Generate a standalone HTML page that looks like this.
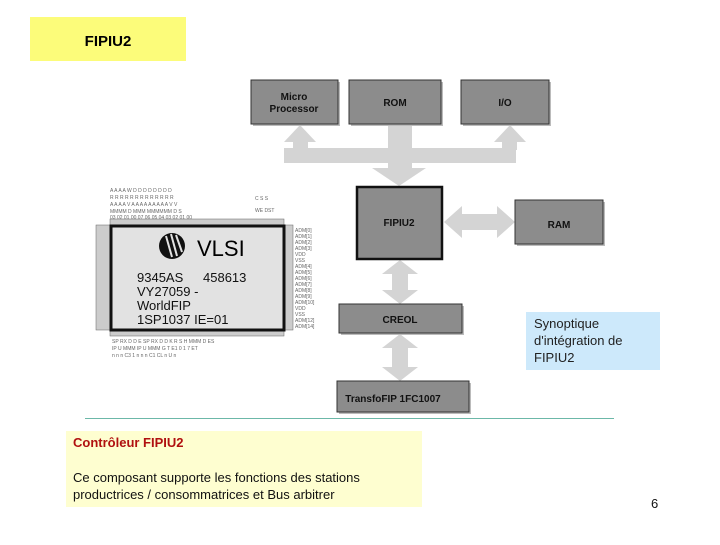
<!DOCTYPE html>
<html><head><meta charset="utf-8"><style>
body{margin:0;width:720px;height:540px;background:#fff;overflow:hidden;font-family:"Liberation Sans",sans-serif}
</style></head><body>
<svg width="720" height="540" xmlns="http://www.w3.org/2000/svg" font-family="Liberation Sans, sans-serif">
<rect x="30" y="17" width="156" height="44" fill="#fcfc7a"/>
<text x="108" y="46" font-size="15" font-weight="bold" text-anchor="middle">FIPIU2</text>

<!-- chip -->
<g fill="#666" font-size="5">
<text x="110" y="192">A A A A    W D D    D D D D D D</text>
<text x="110" y="199">R R R R    R R R    R R R R R R</text>
<text x="110" y="206">A A A A  V  A A A  A A A A A A  V  V</text>
<text x="110" y="213">MMMM  D  MMM  MMMMMM  D  S</text>
<text x="110" y="219">03 02 01 00   07 06   05 04 03 02 01 00</text>
<text x="255" y="200">C S S</text><text x="255" y="212">WE DST</text>
</g>
<rect x="110" y="219" width="174" height="6" fill="#ccc" stroke="#666" stroke-width="0.5"/>
<rect x="96" y="225" width="14" height="105" fill="#ccc" stroke="#666" stroke-width="0.5"/>
<rect x="285" y="225" width="8" height="105" fill="#ccc" stroke="#666" stroke-width="0.5"/>
<rect x="110" y="330" width="174" height="6" fill="#ccc" stroke="#666" stroke-width="0.5"/>
<g fill="#666" font-size="5">
<text x="295" y="232">ADM[0]</text><text x="295" y="238">ADM[1]</text><text x="295" y="244">ADM[2]</text><text x="295" y="250">ADM[3]</text>
<text x="295" y="256">VDD</text><text x="295" y="262">VSS</text><text x="295" y="268">ADM[4]</text><text x="295" y="274">ADM[5]</text>
<text x="295" y="280">ADM[6]</text><text x="295" y="286">ADM[7]</text><text x="295" y="292">ADM[8]</text><text x="295" y="298">ADM[9]</text>
<text x="295" y="304">ADM[10]</text><text x="295" y="310">VDD</text><text x="295" y="316">VSS</text><text x="295" y="322">ADM[12]</text><text x="295" y="328">ADM[14]</text>
<text x="112" y="343">SP RX  D D E  SP RX D D  K R  S  H MMM  D ES</text>
<text x="112" y="350">IP U  MMM  IP U MMM  G  T  E1 0 1 7  ET</text>
<text x="112" y="357">n n n C3  1 n n n C1  CL  n   U n</text>
</g>
<rect x="111" y="226" width="173" height="104" fill="#e2e2e2" stroke="#111" stroke-width="3"/>
<circle cx="172" cy="246" r="13" fill="#111"/>
<g stroke="#e2e2e2" stroke-width="2"><line x1="166" y1="236" x2="172" y2="257"/><line x1="171" y1="234" x2="177" y2="256"/><line x1="176" y1="235" x2="182" y2="252"/></g>
<text x="197" y="256" font-size="22">VLSI</text>
<g font-size="13" fill="#111">
<text x="137" y="282">9345AS</text><text x="203" y="282">458613</text>
<text x="137" y="296">VY27059 -</text>
<text x="137" y="310">WorldFIP</text>
<text x="137" y="324">1SP1037   IE=01</text>
</g>

<!-- arrows -->
<g fill="#d4d4d4">
<rect x="284" y="148" width="232" height="15"/>
<rect x="293" y="140" width="15" height="10"/>
<polygon points="300,125 316,142 284,142"/>
<rect x="502" y="140" width="15" height="10"/>
<polygon points="510,125 526,142 494,142"/>
<rect x="388" y="124" width="24" height="45"/>
<polygon points="372,168 426,168 399,186"/>
<path d="M444 222 L462 206 V214 H497 V206 L515 222 L497 238 V230 H462 V238 Z"/>
<path d="M400 260 L418 274 H408 V290 H418 L400 304 L382 290 H392 V274 H382 Z"/>
<path d="M400 334 L418 348 H408 V367 H418 L400 381 L382 367 H392 V348 H382 Z"/>
</g>

<!-- boxes -->
<g stroke="#333" stroke-width="1" fill="#8c8c8c">
<rect x="253" y="82" width="87" height="44" fill="#bbb" stroke="none"/>
<rect x="251" y="80" width="87" height="44"/>
<rect x="351" y="82" width="92" height="44" fill="#bbb" stroke="none"/>
<rect x="349" y="80" width="92" height="44"/>
<rect x="463" y="82" width="88" height="44" fill="#bbb" stroke="none"/>
<rect x="461" y="80" width="88" height="44"/>
<rect x="517" y="202" width="88" height="44" fill="#bbb" stroke="none"/>
<rect x="515" y="200" width="88" height="44"/>
<rect x="341" y="306" width="123" height="29" fill="#bbb" stroke="none"/>
<rect x="339" y="304" width="123" height="29"/>
<rect x="339" y="383" width="132" height="31" fill="#bbb" stroke="none"/>
<rect x="337" y="381" width="132" height="31"/>
<rect x="357" y="187" width="85" height="72" stroke="#111" stroke-width="2.5"/>
</g>
<g font-size="10" font-weight="bold" fill="#111" text-anchor="middle">
<text x="294" y="100">Micro</text><text x="294" y="112">Processor</text>
<text x="395" y="106">ROM</text>
<text x="505" y="106">I/O</text>
<text x="399" y="226">FIPIU2</text>
<text x="559" y="228">RAM</text>
<text x="400" y="323">CREOL</text>
<text x="393" y="402">TransfoFIP 1FC1007</text>
</g>

<rect x="526" y="312" width="134" height="58" fill="#cde9fb"/>
<g font-size="13" fill="#222"><text x="534" y="328">Synoptique</text><text x="534" y="345">d'intégration de</text><text x="534" y="362">FIPIU2</text></g>

<line x1="85" y1="418.5" x2="614" y2="418.5" stroke="#6cb8a8" stroke-width="1"/>
<rect x="66" y="431" width="356" height="76" fill="#fefed0"/>
<text x="73" y="447" font-size="13" font-weight="bold" fill="#b01010">Contrôleur FIPIU2</text>
<text x="73" y="482" font-size="13" fill="#111">Ce composant supporte les fonctions des stations</text>
<text x="73" y="499" font-size="13" fill="#111">productrices / consommatrices et Bus arbitrer</text>
<text x="651" y="508" font-size="13" fill="#111">6</text>
</svg>
</body></html>
